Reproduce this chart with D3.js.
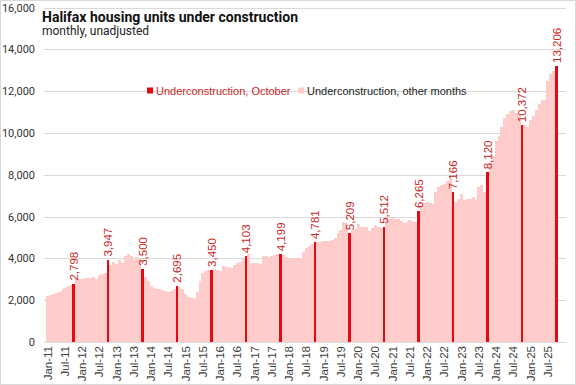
<!DOCTYPE html>
<html>
<head>
<meta charset="utf-8">
<title>Halifax housing units under construction</title>
<style>
  body { margin: 0; background: #fff; }
  .grid line { stroke: #d9d9d9; stroke-width: 1; shape-rendering: crispEdges; }
  .yAxis text { font-family: Roboto, sans-serif; font-size: 11px; fill: #333; }
  .xAxis text { font-family: "Liberation Sans", Arial, sans-serif; font-size: 11.5px; fill: #404040; }
  .bar { shape-rendering: crispEdges; }
  .vlabel { font-family: "Liberation Sans", Arial, sans-serif; font-size: 11.5px; fill: #c62828; }
  .legend text { font-family: "Liberation Sans", Arial, sans-serif; font-size: 11px; }
</style>
</head>
<body>
<svg id="chart" width="576" height="385"></svg>
<script src="https://cdnjs.cloudflare.com/ajax/libs/d3/7.8.5/d3.min.js"></script>
<script>
  /*======== DATA ========*/
  var firstYear = 2011;
  // housing units under construction, monthly Jan-11 .. Oct-25
  var units = [
    2200, 2250, 2300, 2350, 2400, 2500, 2600, 2650, 2750, 2798, 3000, 3020,   // 2011
    3030, 3040, 3050, 3060, 3100, 3000, 3200, 3250, 3300, 3947, 3700, 3850,   // 2012
    3750, 3900, 3800, 4100, 4200, 4100, 3900, 4050, 3950, 3500, 3100, 2900,   // 2013
    2700, 2600, 2550, 2550, 2500, 2450, 2400, 2450, 2550, 2695, 2650, 2550,   // 2014
    2300, 2150, 2100, 2100, 2400, 2900, 3300, 3400, 3450, 3450, 3500, 3450,   // 2015
    3400, 3650, 3600, 3600, 3550, 3700, 3800, 3850, 3950, 4103, 4200, 3800,   // 2016
    3780, 3800, 3750, 4100, 4100, 4050, 4100, 4150, 4200, 4199, 4150, 4050,   // 2017
    3950, 4000, 3950, 4000, 4000, 4300, 4500, 4600, 4700, 4781, 4800, 4800,   // 2018
    4850, 4850, 4850, 4900, 5000, 5200, 5350, 5750, 5700, 5209, 5350, 5400,   // 2019
    5650, 5500, 5500, 5500, 5300, 5450, 5600, 5500, 5450, 5512, 6000, 5900,   // 2020
    5950, 5900, 5900, 5800, 5700, 5750, 5850, 5800, 5750, 6265, 6500, 6650,   // 2021
    6700, 6650, 6600, 7200, 7400, 7500, 7550, 7700, 7800, 7166, 6700, 6850,   // 2022
    7100, 6800, 6850, 6850, 6950, 6800, 7400, 7500, 7200, 8120, 8550, 8900,   // 2023
    9600, 9850, 10300, 10700, 10900, 11050, 11100, 10950, 10850, 10372, 10400, 10300, // 2024
    10600, 10800, 11100, 11400, 11600, 11600, 12500, 12800, 12950, 13206      // 2025
  ];
  var monthNames = ["Jan","Feb","Mar","Apr","May","Jun","Jul","Aug","Sep","Oct","Nov","Dec"];
  var yTicks = [0, 2000, 4000, 6000, 8000, 10000, 12000, 14000, 16000];
  var legendLabels = ["Underconstruction, October", "Underconstruction, other months"];
  var title = "Halifax housing units under construction";
  var subtitle = "monthly, unadjusted";

  /*======== COLOR ========*/
  var redColor = "#e50914";
  var pinkColor = "#ffcccc";

  /*======== computed ========*/
  var data = units.map(function(v, i) {
    var m = i % 12, yr = firstYear + Math.floor(i / 12);
    return { i: i, label: monthNames[m] + "-" + String(yr).slice(2), month: m, value: v };
  });

  var svg = d3.select("#chart");

  var x = d3.scaleBand().domain(data.map(d => d.i)).range([46.2, 558]).paddingInner(0).paddingOuter(0);
  var y = d3.scaleLinear().domain([0, 16000]).range([342, 7.6]);

  // frame
  svg.append("rect").attr("x", 0.5).attr("y", 0.5).attr("width", 575).attr("height", 384)
    .attr("fill", "none").attr("stroke", "#d9d9d9");

  // gridlines
  var grid = svg.append("g").attr("class", "grid");
  grid.selectAll("line").data(yTicks).enter().append("line")
    .attr("x1", 44).attr("x2", 566)
    .attr("y1", d => Math.round(y(d)) + 0.5).attr("y2", d => Math.round(y(d)) + 0.5);

  // y axis labels
  var yAxis = d3.axisLeft(y).tickValues(yTicks).tickSize(0).tickPadding(0).tickFormat(d3.format(","));
  svg.append("g").attr("class", "yAxis").attr("transform", "translate(35,0)").call(yAxis)
    .call(g => g.select(".domain").remove());

  // bars
  svg.append("g").selectAll("rect").data(data).enter().append("rect")
    .attr("class", "bar")
    .attr("x", d => d.month === 9 ? x(d.i) + 0.2 : x(d.i))
    .attr("width", d => d.month === 9 ? x.bandwidth() - 0.2 : x.bandwidth() + 0.1)
    .attr("y", d => y(d.value))
    .attr("height", d => y(0) - y(d.value))
    .attr("fill", d => d.month === 9 ? redColor : pinkColor);

  // value labels for October
  var octs = data.filter(d => d.month === 9);
  svg.append("g").selectAll("text").data(octs).enter().append("text")
    .attr("class", "vlabel")
    .attr("transform", d => "translate(" + (x(d.i) + x.bandwidth() / 2 + 4) + "," + (y(d.value) - 3) + ") rotate(-90)")
    .text(d => d3.format(",")(d.value));

  // x axis labels every 6 months
  var xAxis = d3.axisBottom(x)
    .tickValues(data.filter(d => d.month === 0 || d.month === 6).map(d => d.i))
    .tickSize(0).tickPadding(0)
    .tickFormat(i => data[i].label);
  svg.append("g").attr("class", "xAxis").attr("transform", "translate(0,346)").call(xAxis)
    .call(g => g.select(".domain").remove())
    .selectAll("text")
    .attr("text-anchor", "end")
    .attr("dy", null)
    .attr("transform", "rotate(-90)")
    .attr("x", 0).attr("y", 4);

  // legend
  var legend = svg.append("g").attr("class", "legend");
  legend.append("rect").attr("x", 147).attr("y", 87.5).attr("width", 6).attr("height", 6).attr("fill", redColor);
  legend.append("text").attr("x", 156).attr("y", 95).attr("fill", "#c62828").text(legendLabels[0]);
  legend.append("rect").attr("x", 298).attr("y", 87.5).attr("width", 6).attr("height", 6).attr("fill", pinkColor);
  legend.append("text").attr("x", 307).attr("y", 95).attr("fill", "#222").text(legendLabels[1]);

  // title
  svg.append("text").attr("x", 42).attr("y", 21.5)
    .attr("font-family", "Roboto, sans-serif").attr("font-weight", "bold").attr("font-size", "15.5px")
    .attr("fill", "#111").attr("textLength", 256).attr("lengthAdjust", "spacingAndGlyphs")
    .text(title);
  svg.append("text").attr("x", 42).attr("y", 35)
    .attr("font-family", "Roboto, sans-serif").attr("font-size", "12px").attr("fill", "#222")
    .text(subtitle);
</script>
</body>
</html>
